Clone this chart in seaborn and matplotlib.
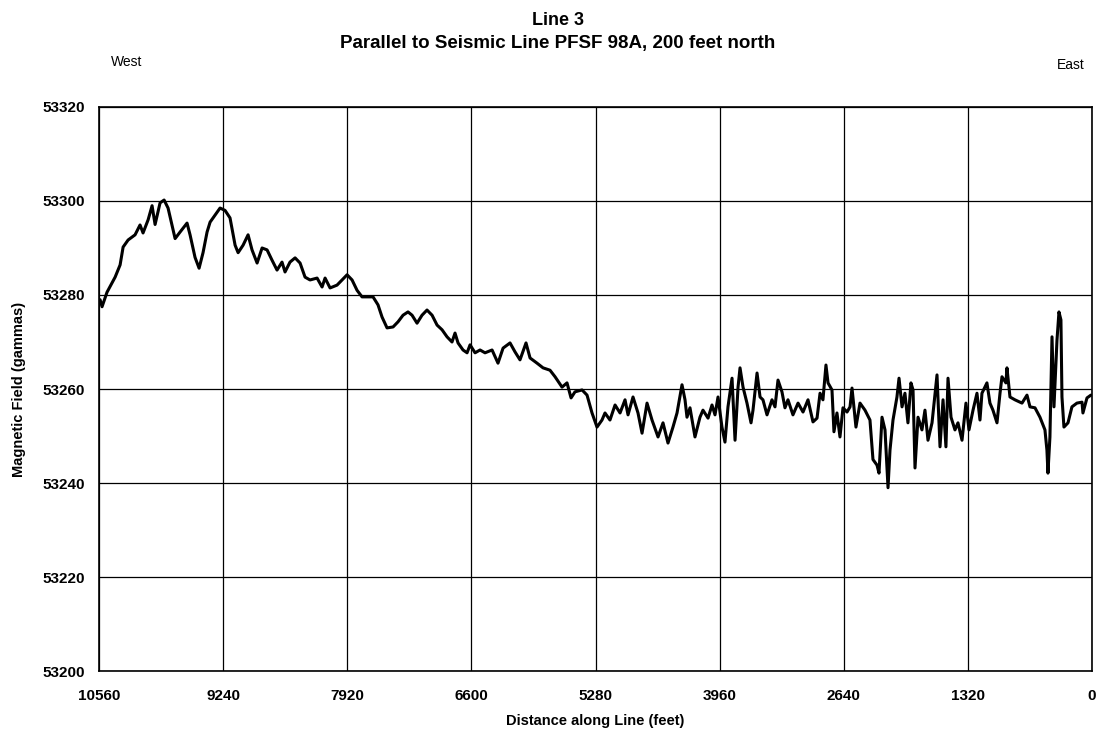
import matplotlib
matplotlib.use("Agg")
import matplotlib.pyplot as plt
import seaborn as sns
import pandas as pd

# Magnetometer traverse, Line 3 (distance in feet from the east end, field in gammas)
distance_ft = [
    10549, 10528, 10475, 10389, 10336, 10304, 10251, 10177, 10124, 10092,
    10038, 9996, 9964, 9911, 9868, 9826, 9751, 9698, 9624, 9592,
    9539, 9496, 9454, 9411, 9379, 9326, 9273, 9220, 9167, 9113,
    9081, 9028, 8975, 8933, 8879, 8826, 8773, 8720, 8667, 8614,
    8582, 8529, 8475, 8422, 8369, 8316, 8241, 8188, 8156, 8103,
    8029, 7976, 7922, 7869, 7816, 7763, 7699, 7646, 7593, 7550,
    7497, 7433, 7380, 7327, 7274, 7231, 7178, 7125, 7072, 7018,
    6965, 6912, 6859, 6806, 6774, 6742, 6689, 6646, 6614, 6561,
    6508, 6455, 6380, 6317, 6263, 6189, 6136, 6083, 6019, 5976,
    5902, 5838, 5764, 5710, 5636, 5583, 5540, 5498, 5423, 5370,
    5317, 5264, 5211, 5179, 5126, 5072, 5019, 4966, 4934, 4881,
    4828, 4785, 4732, 4679, 4615, 4562, 4509, 4456, 4413, 4360,
    4328, 4307, 4275, 4222, 4169, 4137, 4083, 4041, 4009, 3977,
    3935, 3903, 3871, 3828, 3796, 3764, 3743, 3711, 3669, 3626,
    3605, 3562, 3530, 3499, 3456, 3403, 3371, 3339, 3297, 3265,
    3233, 3180, 3126, 3073, 3020, 2967, 2924, 2892, 2861, 2829,
    2807, 2765, 2744, 2712, 2680, 2648, 2605, 2573, 2552, 2510,
    2467, 2414, 2361, 2329, 2286, 2265, 2233, 2201, 2169, 2148,
    2116, 2074, 2052, 2020, 1989, 1957, 1925, 1903, 1882, 1850,
    1808, 1776, 1744, 1701, 1648, 1616, 1584, 1553, 1531, 1499,
    1457, 1425, 1382, 1340, 1308, 1265, 1223, 1191, 1170, 1117,
    1085, 1053, 1010, 978, 957, 915, 904, 872, 819, 744,
    691, 659, 606, 553, 500, 479, 468, 447, 425, 404,
    372, 351, 330, 319, 298, 255, 213, 160, 106, 96,
    53, 11,
]

field_gammas = [
    53279.0, 53277.5, 53280.6, 53283.8, 53286.4, 53290.2, 53291.7, 53292.8, 53294.9, 53293.2,
    53296.0, 53299.0, 53295.0, 53299.6, 53300.2, 53298.5, 53292.0, 53293.4, 53295.3, 53292.8,
    53288.0, 53285.7, 53289.0, 53293.4, 53295.5, 53297.0, 53298.5, 53298.0, 53296.4, 53290.6,
    53289.0, 53290.6, 53292.8, 53289.6, 53286.8, 53290.0, 53289.6, 53287.4, 53285.3, 53287.0,
    53284.9, 53287.0, 53287.9, 53286.8, 53283.8, 53283.2, 53283.6, 53281.7, 53283.6, 53281.5,
    53282.1, 53283.2, 53284.3, 53283.2, 53281.0, 53279.6, 53279.6, 53279.6, 53277.9, 53275.3,
    53273.0, 53273.2, 53274.3, 53275.7, 53276.4, 53275.7, 53274.0, 53275.7, 53276.8, 53275.7,
    53273.6, 53272.6, 53271.1, 53270.0, 53271.9, 53269.8, 53268.3, 53267.7, 53269.4, 53267.7,
    53268.3, 53267.7, 53268.3, 53265.5, 53268.7, 53269.8, 53267.9, 53266.2, 53269.8, 53266.6,
    53265.5, 53264.5, 53264.0, 53262.6, 53260.4, 53261.3, 53258.1, 53259.4, 53259.8, 53258.7,
    53254.9, 53251.9, 53253.4, 53254.9, 53253.4, 53256.6, 53254.9, 53257.7, 53254.5, 53258.3,
    53254.9, 53250.6, 53257.0, 53253.4, 53249.8, 53252.8, 53248.5, 53251.9, 53254.9, 53260.9,
    53257.7, 53254.0, 53256.0, 53249.8, 53254.0, 53255.5, 53253.8, 53256.6, 53254.5, 53258.3,
    53251.9, 53248.7, 53256.2, 53262.3, 53249.1, 53260.4, 53264.5, 53260.4, 53257.0, 53252.8,
    53255.5, 53263.4, 53258.3, 53257.7, 53254.5, 53257.7, 53256.2, 53261.9, 53259.4, 53256.0,
    53257.7, 53254.5, 53257.0, 53255.1, 53257.7, 53253.0, 53253.8, 53259.1, 53257.7, 53265.1,
    53261.3, 53259.8, 53250.9, 53254.9, 53249.8, 53256.0, 53255.1, 53256.2, 53260.2, 53251.9,
    53257.0, 53255.5, 53253.4, 53245.0, 53243.8, 53242.1, 53254.0, 53251.3, 53239.0, 53247.0,
    53253.4, 53258.3, 53262.3, 53256.2, 53259.1, 53252.8, 53261.3, 53259.8, 53243.2, 53254.0,
    53251.3, 53255.5, 53249.1, 53252.8, 53263.0, 53247.7, 53257.7, 53247.7, 53262.3, 53254.0,
    53251.3, 53252.8, 53249.1, 53257.0, 53251.3, 53255.5, 53259.1, 53253.4, 53259.1, 53261.3,
    53257.0, 53255.5, 53252.8, 53259.1, 53262.6, 53261.3, 53264.5, 53258.3, 53257.7, 53257.0,
    53258.7, 53256.2, 53256.0, 53254.0, 53251.3, 53247.0, 53242.1, 53249.8, 53271.1, 53256.2,
    53270.4, 53276.4, 53274.7, 53258.3, 53251.9, 53252.8, 53256.2, 53257.0, 53257.2, 53254.9,
    53258.1, 53258.7,
]

x_ticks = [10560, 9240, 7920, 6600, 5280, 3960, 2640, 1320, 0]
y_ticks = [53200, 53220, 53240, 53260, 53280, 53300, 53320]

df = pd.DataFrame({"distance": distance_ft, "field": field_gammas})

sns.set_theme(style="white")
plt.rcParams["font.family"] = ["Liberation Sans", "DejaVu Sans"]
plt.rcParams["text.color"] = "black"
plt.rcParams["axes.labelcolor"] = "black"
plt.rcParams["xtick.color"] = "black"
plt.rcParams["ytick.color"] = "black"

fig = plt.figure(figsize=(10.98, 7.45), dpi=100)
ax = fig.add_axes([0.0902, 0.0993, 0.9043, 0.7571])

sns.lineplot(data=df, x="distance", y="field", ax=ax, color="black",
             linewidth=2.2, sort=False, estimator=None)

ax.set_xlim(10560, 0)
ax.set_ylim(53200, 53320)
ax.set_xticks(x_ticks)
ax.set_yticks(y_ticks)
ax.set_xticklabels([str(t) for t in x_ticks], fontsize=11, fontweight="bold")
ax.set_yticklabels([str(t) for t in y_ticks], fontsize=11, fontweight="bold")
ax.tick_params(axis="both", direction="out", length=4, width=1, color="black",
               pad=6, labelcolor="black")
ax.tick_params(axis="x", pad=9)

ax.grid(True, color="black", linewidth=0.9)
for spine in ax.spines.values():
    spine.set_visible(True)
    spine.set_color("black")
    spine.set_linewidth(1.2)

ax.set_xlabel("Distance along Line (feet)", fontsize=10.5, fontweight="bold",
              color="black", labelpad=8)
ax.set_ylabel("Magnetic Field (gammas)", fontsize=10.5, fontweight="bold",
              color="black", labelpad=12)

fig.text(0.508, 0.973, "Line 3", ha="center", va="center",
         fontsize=13, fontweight="bold", color="black")
fig.text(0.508, 0.942, "Parallel to Seismic Line PFSF 98A, 200 feet north",
         ha="center", va="center", fontsize=13.5, fontweight="bold", color="black")
fig.text(0.115, 0.917, "West", ha="center", va="center", fontsize=10, color="black")
fig.text(0.975, 0.913, "East", ha="center", va="center", fontsize=10, color="black")

fig.savefig("out.png", dpi=100, facecolor="white")
